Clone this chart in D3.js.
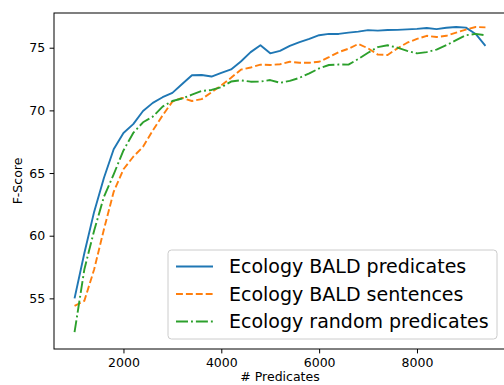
<!DOCTYPE html>
<html>
<head>
<meta charset="utf-8">
<script src="https://cdn.jsdelivr.net/npm/d3@7"></script>
<style>
  html, body { margin: 0; padding: 0; background: #fff; }
  svg { display: block; font-family: "DejaVu Sans", sans-serif; }
</style>
</head>
<body>
<svg id="chart" width="504" height="385"></svg>
<script>
const predicates = [1000,1200,1400,1600,1800,2000,2200,2400,2600,2800,3000,3200,3400,3600,3800,4000,4200,4400,4600,4800,5000,5200,5400,5600,5800,6000,6200,6400,6600,6800,7000,7200,7400,7600,7800,8000,8200,8400,8600,8800,9000,9200,9400];
const baldPredicates = [55.0,58.6,61.9,64.6,66.9,68.2,68.9,69.95,70.6,71.05,71.4,72.1,72.8,72.82,72.7,73.0,73.27,73.9,74.65,75.2,74.55,74.75,75.15,75.45,75.7,76.0,76.1,76.1,76.2,76.28,76.4,76.36,76.41,76.42,76.46,76.5,76.57,76.48,76.59,76.65,76.6,76.1,75.15];
const baldSentences = [54.4,54.8,57.3,60.5,63.5,65.3,66.3,67.1,68.4,69.6,70.7,71.0,70.75,70.9,71.45,72.0,72.6,73.25,73.42,73.65,73.62,73.68,73.88,73.8,73.8,73.88,74.25,74.65,74.92,75.3,74.95,74.45,74.42,74.95,75.4,75.7,75.95,75.85,75.95,76.2,76.45,76.65,76.62];
const randomPredicates = [52.3,57.3,60.4,63.1,64.9,66.8,68.2,69.05,69.5,70.3,70.75,70.95,71.25,71.55,71.63,71.85,72.3,72.4,72.29,72.3,72.42,72.2,72.35,72.6,72.95,73.35,73.62,73.66,73.65,74.1,74.6,75.05,75.2,75.0,74.75,74.55,74.65,74.85,75.2,75.6,76.0,76.1,76.0];
const seriesNames = ["Ecology BALD predicates","Ecology BALD sentences","Ecology random predicates"];
const xTicks = [2000,4000,6000,8000];
const yTicks = [55,60,65,70,75];

const svg = d3.select("#chart");
const L = 54, R = 506, T = 13, B = 349;
const x = d3.scaleLinear().domain([580, 9820]).range([L, R]);
const y = d3.scaleLinear().domain([50.96, 77.77]).range([B, T]);

const series = [
  {name: seriesNames[0], vals: baldPredicates, color: "#1f77b4", dash: null},
  {name: seriesNames[1], vals: baldSentences, color: "#ff7f0e", dash: "6.9,3"},
  {name: seriesNames[2], vals: randomPredicates, color: "#2ca02c", dash: "12,3,1.9,3"}
];

svg.append("clipPath").attr("id","clip").append("rect")
  .attr("x", L).attr("y", T).attr("width", R - L).attr("height", B - T);

const line = d3.line().x((d,i) => x(predicates[i])).y(d => y(d));
const g = svg.append("g").attr("clip-path","url(#clip)");
series.forEach(s => {
  g.append("path").datum(s.vals)
    .attr("d", line)
    .attr("fill","none")
    .attr("stroke", s.color)
    .attr("stroke-width", 1.9)
    .attr("stroke-dasharray", s.dash)
    .attr("stroke-linejoin","round");
});

// axes
const xAxis = d3.axisBottom(x).tickValues(xTicks).tickSize(4.4).tickPadding(4.4).tickFormat(d3.format("d"));
const yAxis = d3.axisLeft(y).tickValues(yTicks).tickSize(4.4).tickPadding(4.4).tickFormat(d3.format("d"));
const gx = svg.append("g").attr("transform", `translate(0,${B})`).call(xAxis);
const gy = svg.append("g").attr("transform", `translate(${L},0)`).call(yAxis);
[gx, gy].forEach(a => {
  a.select(".domain").remove();
  a.selectAll("line").attr("stroke","#000").attr("stroke-width",1);
  a.selectAll("text").attr("font-size", 12.5).attr("fill","#000").attr("font-family","DejaVu Sans");
});

// spines
svg.append("rect").attr("x", L).attr("y", T).attr("width", R - L).attr("height", B - T)
  .attr("fill","none").attr("stroke","#000").attr("stroke-width",1);

// axis labels
svg.append("text").attr("x", (L + R) / 2).attr("y", 381).attr("text-anchor","middle")
  .attr("font-size", 12.5).text("# Predicates");
svg.append("text").attr("transform", `translate(22,${(T + B) / 2}) rotate(-90)`).attr("text-anchor","middle")
  .attr("font-size", 12.5).text("F-Score");

// legend
const lg = svg.append("g");
lg.append("rect").attr("x", 168).attr("y", 250).attr("width", 329).attr("height", 89)
  .attr("rx", 3.5).attr("fill","#fff").attr("fill-opacity",0.8)
  .attr("stroke","#cccccc").attr("stroke-width",1);
const rowY = [266.5, 294, 321.5];
series.forEach((s, i) => {
  lg.append("line").attr("x1", 176).attr("x2", 213).attr("y1", rowY[i]).attr("y2", rowY[i])
    .attr("stroke", s.color).attr("stroke-width", 1.9).attr("stroke-dasharray", s.dash);
  lg.append("text").attr("x", 229).attr("y", rowY[i]).attr("dy","0.36em")
    .attr("font-size", 19).attr("fill","#000").text(s.name);
});
</script>
</body>
</html>
